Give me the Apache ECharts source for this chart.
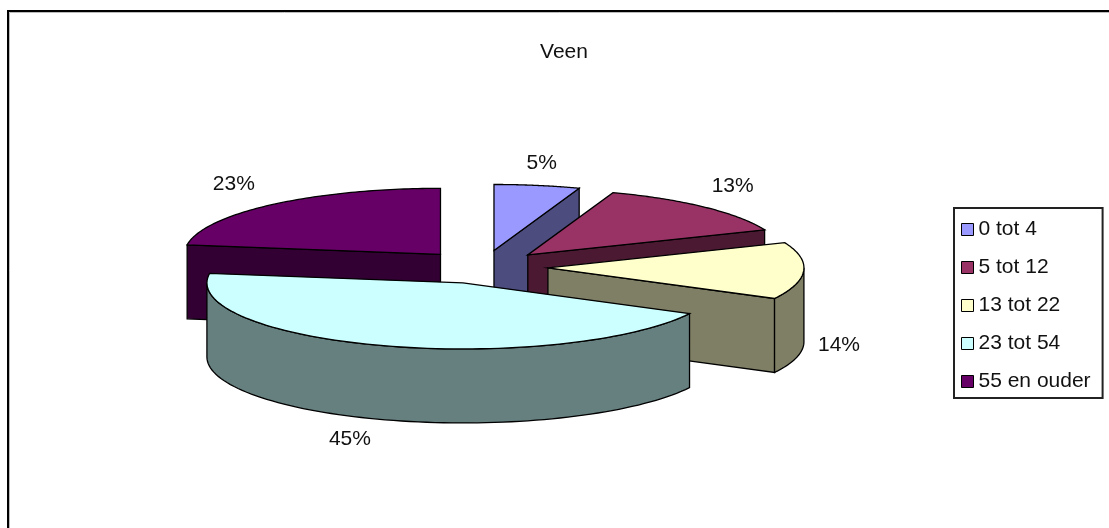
<!DOCTYPE html>
<html>
<head>
<meta charset="utf-8">
<title>Veen</title>
<style>
  html, body { margin: 0; padding: 0; background: #fff; }
  #chart { width: 1109px; height: 528px; }
</style>
<script src="https://cdn.jsdelivr.net/npm/echarts@6/dist/echarts.min.js"></script>
</head>
<body>
<div id="chart"></div>
<script>
  const title = 'Veen';
  const categories = ['0 tot 4', '5 tot 12', '13 tot 22', '23 tot 54', '55 en ouder'];
  const shares = [5.4, 13.4, 13.9, 44.6, 22.7];

  const topColors = ['#9999FF', '#993366', '#FFFFCC', '#CCFFFF', '#660066'];
  const wallColors = ['#4C4C7F', '#4C1933', '#7F7F66', '#667F7F', '#330033'];

  // back slices first, the big front slice has to cover the others
  const paintOrder = [4, 0, 1, 2, 3];

  // flat projection of the pie
  const pie = {cx: 483, cy: 267, rx: 256, ry: 66, explode: 65, depth: 74};
  // label distance from the rim
  const labelOffset = [[-2, -12], [2, -14], [-3, 0], [-22, 10], [-14, -13]];
  const fontFamily = '"Liberation Sans", Arial, sans-serif';

  const total = shares.reduce((a, b) => a + b, 0);
  const slices = [];
  let sum = 0;
  shares.forEach(share => {
    slices.push({from: sum / total * 2 * Math.PI, to: (sum + share) / total * 2 * Math.PI});
    sum += share;
  });

  function wallQuad(a, b, color) {
    return {
      type: 'polygon',
      shape: {points: [a, b, [b[0], b[1] + pie.depth], [a[0], a[1] + pie.depth]]},
      style: {fill: color, stroke: '#000', lineWidth: 1.3}
    };
  }

  function renderSlice(index) {
    return function (params, api) {
      const slice = slices[index];
      const mid = (slice.from + slice.to) / 2;
      const ax = pie.cx + pie.explode * Math.sin(mid);
      const ay = pie.cy - pie.explode * Math.cos(mid) * pie.ry / pie.rx;
      const rim = t => [ax + pie.rx * Math.sin(t), ay - pie.ry * Math.cos(t)];
      const apex = [ax, ay];
      const children = [];

      // walls seen from the front
      if (Math.sin(slice.from) < -0.001) {
        children.push(wallQuad(apex, rim(slice.from), wallColors[index]));
      }
      if (Math.sin(slice.to) > 0.001) {
        children.push(wallQuad(apex, rim(slice.to), wallColors[index]));
      }
      const rimFrom = Math.max(slice.from, Math.PI / 2);
      const rimTo = Math.min(slice.to, Math.PI * 1.5);
      if (rimTo > rimFrom) {
        const upper = [];
        const lower = [];
        for (let i = 0; i <= 80; i++) {
          const p = rim(rimFrom + (rimTo - rimFrom) * i / 80);
          upper.push(p);
          lower.unshift([p[0], p[1] + pie.depth]);
        }
        children.push({
          type: 'polygon',
          shape: {points: upper.concat(lower)},
          style: {fill: wallColors[index], stroke: '#000', lineWidth: 1.3}
        });
      }

      // top face
      const top = [apex];
      for (let i = 0; i <= 80; i++) {
        top.push(rim(slice.from + (slice.to - slice.from) * i / 80));
      }
      children.push({
        type: 'polygon',
        shape: {points: top},
        style: {fill: topColors[index], stroke: '#000', lineWidth: 1.3}
      });

      // percent label just outside the rim
      const front = Math.cos(mid) < 0;
      const edge = [ax + 1.15 * pie.rx * Math.sin(mid), ay - 1.15 * pie.ry * Math.cos(mid)];
      children.push({
        type: 'text',
        style: {
          text: Math.round(api.value(0) / total * 100) + '%',
          x: edge[0] + labelOffset[index][0],
          y: edge[1] + (front ? pie.depth : 0) + labelOffset[index][1],
          textAlign: 'center',
          textVerticalAlign: 'middle',
          font: '21px ' + fontFamily,
          fill: '#111'
        }
      });

      return {type: 'group', children: children};
    };
  }

  const chart = echarts.init(document.getElementById('chart'), null, {renderer: 'canvas'});

  chart.setOption({
    animation: false,
    backgroundColor: '#fff',
    title: {
      text: title,
      left: 559,
      top: 37,
      textAlign: 'center',
      textStyle: {
        color: '#111',
        fontSize: 21,
        fontWeight: 'normal',
        fontFamily: fontFamily
      }
    },
    legend: {
      orient: 'vertical',
      left: 954,
      top: 208,
      padding: [11, 12, 6, 7],
      backgroundColor: '#fff',
      borderColor: '#222',
      borderWidth: 2,
      itemWidth: 12,
      itemHeight: 12,
      itemGap: 17,
      icon: 'rect',
      selectedMode: false,
      data: categories,
      itemStyle: {borderColor: '#000', borderWidth: 1},
      textStyle: {
        color: '#111',
        fontSize: 21,
        fontFamily: fontFamily
      }
    },
    graphic: [
      {
        type: 'rect',
        silent: true,
        shape: {x: 8, y: 11, width: 1120, height: 540},
        style: {fill: null, stroke: '#000', lineWidth: 2}
      },
      {
        type: 'rect',
        silent: true,
        shape: {x: 9.5, y: 12.5, width: 1120, height: 540},
        style: {fill: null, stroke: '#bbb', lineWidth: 1}
      }
    ],
    series: paintOrder.map(index => ({
      type: 'custom',
      name: categories[index],
      coordinateSystem: 'none',
      silent: true,
      itemStyle: {color: topColors[index]},
      renderItem: renderSlice(index),
      data: [[shares[index]]]
    }))
  });
</script>
</body>
</html>
